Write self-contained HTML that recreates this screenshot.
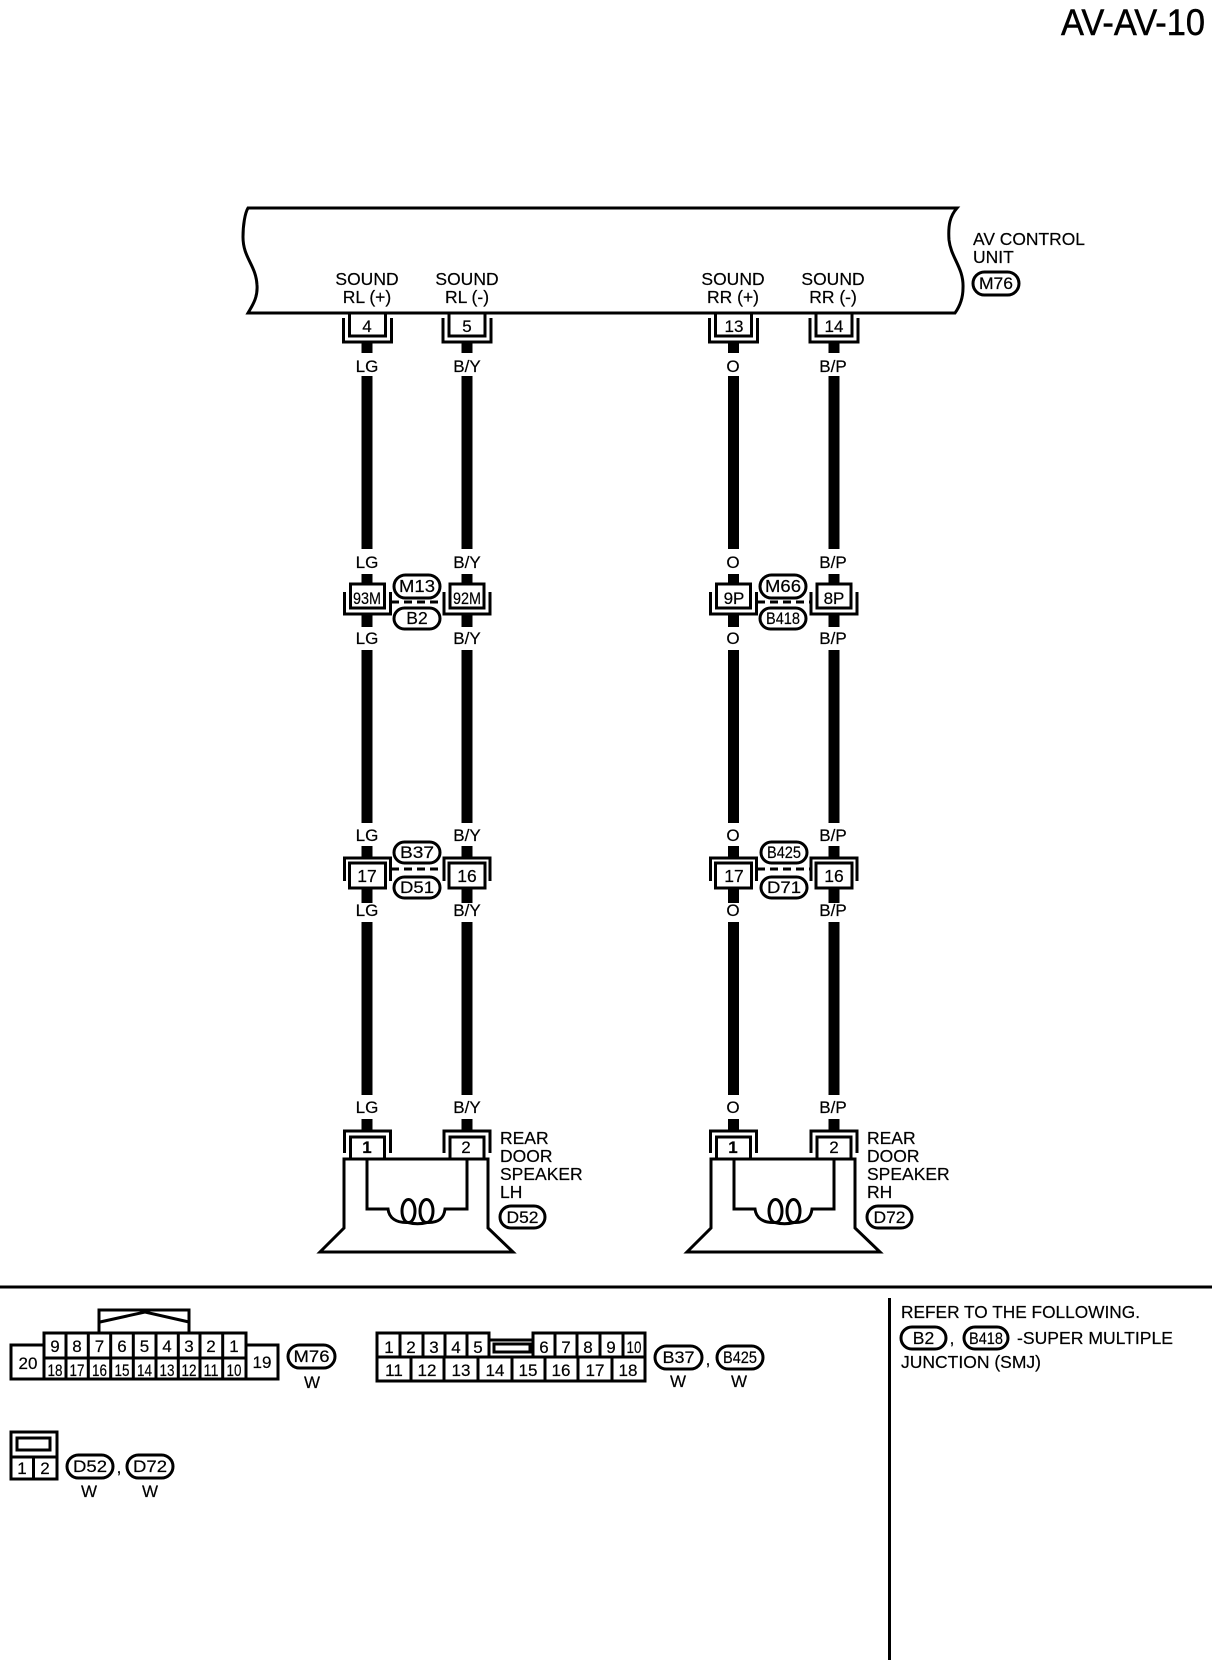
<!DOCTYPE html>
<html><head><meta charset="utf-8"><style>
html,body{margin:0;padding:0;background:#fff}
svg{display:block}
text{font-family:"Liberation Sans",sans-serif;fill:#000;stroke:#000;stroke-width:.2;font-size:17px;text-anchor:middle}
.s{font-size:17.500px}
.l{text-anchor:start;font-size:17.500px}
.o{fill:#fff;stroke:#000;stroke-width:3}
.n{fill:none;stroke:#000;stroke-width:3}
.b{fill:#fff;stroke:#000;stroke-width:3}
</style></head><body>
<svg width="1216" height="1660" viewBox="0 0 1216 1660" xmlns="http://www.w3.org/2000/svg">
<defs>
<g id="wire">
<rect x="-5.5" y="342" width="11" height="11"/><rect x="-5.5" y="376" width="11" height="173"/>
<rect x="-5.5" y="574" width="11" height="11"/><rect x="-5.5" y="614" width="11" height="13"/>
<rect x="-5.5" y="650" width="11" height="173"/><rect x="-5.5" y="846" width="11" height="13"/>
<rect x="-5.5" y="888" width="11" height="15"/><rect x="-5.5" y="922" width="11" height="173"/>
<rect x="-5.5" y="1119" width="11" height="13"/>
</g>
<g id="conn">
<rect class="b" x="-18" y="313" width="36" height="23"/>
<path class="n" d="M-24 318V342H24V318"/>
<rect class="b" x="-17" y="584" width="34" height="24"/>
<path class="n" d="M-23 592V614H23V592"/>
<rect class="b" x="-18" y="863" width="36" height="25"/>
<path class="n" d="M-23 881V858H23V881"/>
<rect class="b" x="-17" y="1137" width="34" height="22"/>
<path class="n" d="M-23 1153V1131H23V1153"/>
</g>
<g id="spk">
<path class="n" d="M344 1159H488V1228L513 1252H320L344 1228Z"/>
<path class="n" d="M367 1159V1209H388C389 1218 396 1223 408 1222.500M408 1222.500Q417.500 1225 427 1222.500M427 1222.500C439 1223 444 1218 445 1209H467V1159"/>
<ellipse class="n" cx="408.500" cy="1211" rx="6.500" ry="11.500"/>
<ellipse class="n" cx="426.500" cy="1211" rx="6.500" ry="11.500"/>
</g>
</defs>

<text x="1133" y="35" style="font-size:37px;stroke-width:.5" textLength="144" lengthAdjust="spacingAndGlyphs">AV-AV-10</text>

<path d="M248 208H957C950 216 948 225 949 240C951 258 964 268 963 288C963 298 960 306 955 313H248C252 306 258 298 257 285C256 265 243 258 243 237C243 225 245 213 248 208Z" fill="#fff" stroke="#000" stroke-width="3"/>

<text class="s" x="367" y="285">SOUND</text><text class="s" x="367" y="303">RL (+)</text>
<text class="s" x="467" y="285">SOUND</text><text class="s" x="467" y="303">RL (-)</text>
<text class="s" x="733" y="285">SOUND</text><text class="s" x="733" y="303">RR (+)</text>
<text class="s" x="833" y="285">SOUND</text><text class="s" x="833" y="303">RR (-)</text>

<text class="l" x="973" y="245" textLength="112" lengthAdjust="spacingAndGlyphs">AV CONTROL</text>
<text class="l" x="973" y="263">UNIT</text>
<rect class="o" x="973" y="272" width="46" height="23" rx="11.5"/><text x="996" y="289" textLength="34" lengthAdjust="spacingAndGlyphs">M76</text>

<use href="#wire" x="367"/><use href="#wire" x="467"/><use href="#wire" x="733.5"/><use href="#wire" x="834"/>
<use href="#conn" x="367.500"/><use href="#conn" x="467"/><use href="#conn" x="733.500"/><use href="#conn" x="834"/>

<!-- wire colours -->
<text x="367" y="372">LG</text><text x="467" y="372">B/Y</text><text x="733" y="372">O</text><text x="833" y="372">B/P</text>
<text x="367" y="568">LG</text><text x="467" y="568">B/Y</text><text x="733" y="568">O</text><text x="833" y="568">B/P</text>
<text x="367" y="644">LG</text><text x="467" y="644">B/Y</text><text x="733" y="644">O</text><text x="833" y="644">B/P</text>
<text x="367" y="841">LG</text><text x="467" y="841">B/Y</text><text x="733" y="841">O</text><text x="833" y="841">B/P</text>
<text x="367" y="916">LG</text><text x="467" y="916">B/Y</text><text x="733" y="916">O</text><text x="833" y="916">B/P</text>
<text x="367" y="1113">LG</text><text x="467" y="1113">B/Y</text><text x="733" y="1113">O</text><text x="833" y="1113">B/P</text>

<!-- pin numbers -->
<text x="367" y="332">4</text><text x="467" y="332">5</text><text x="734" y="332">13</text><text x="834" y="332">14</text>
<text x="367" y="604" textLength="28" lengthAdjust="spacingAndGlyphs">93M</text><text x="467" y="604" textLength="28" lengthAdjust="spacingAndGlyphs">92M</text>
<text x="734" y="604">9P</text><text x="834" y="604">8P</text>
<text class="s" x="367" y="882">17</text><text class="s" x="467" y="882">16</text><text class="s" x="734" y="882">17</text><text class="s" x="834" y="882">16</text>
<text x="367" y="1153" style="font-weight:bold">1</text><text x="466" y="1153">2</text><text x="733" y="1153" style="font-weight:bold">1</text><text x="834" y="1153">2</text>

<!-- joints -->
<path d="M391 602H444M757 602H810M391 869H444M757 869H810" fill="none" stroke="#000" stroke-width="3" stroke-dasharray="8 5"/>
<rect class="o" x="394" y="575" width="46" height="23" rx="11.5"/><text class="s" x="417" y="592" textLength="36" lengthAdjust="spacingAndGlyphs">M13</text>
<rect class="o" x="394" y="608" width="46" height="21" rx="10.5"/><text class="s" x="417" y="624">B2</text>
<rect class="o" x="760" y="575" width="46" height="23" rx="11.5"/><text class="s" x="783" y="592" textLength="36" lengthAdjust="spacingAndGlyphs">M66</text>
<rect class="o" x="760" y="608" width="46" height="21" rx="10.5"/><text x="783" y="624" textLength="34" lengthAdjust="spacingAndGlyphs">B418</text>
<rect class="o" x="394" y="842" width="46" height="21" rx="10.5"/><text x="417" y="858" textLength="34" lengthAdjust="spacingAndGlyphs">B37</text>
<rect class="o" x="394" y="877" width="46" height="21" rx="10.5"/><text x="417" y="893" textLength="34" lengthAdjust="spacingAndGlyphs">D51</text>
<rect class="o" x="761" y="842" width="46" height="21" rx="10.5"/><text x="784" y="858" textLength="34" lengthAdjust="spacingAndGlyphs">B425</text>
<rect class="o" x="761" y="877" width="46" height="21" rx="10.5"/><text x="784" y="893" textLength="34" lengthAdjust="spacingAndGlyphs">D71</text>

<!-- speakers -->
<use href="#spk"/><use href="#spk" x="367"/>
<text class="l" x="500" y="1144">REAR</text><text class="l" x="500" y="1162">DOOR</text><text class="l" x="500" y="1180">SPEAKER</text><text class="l" x="500" y="1198">LH</text>
<rect class="o" x="500" y="1206" width="45" height="22" rx="11"/><text x="522.500" y="1223" textLength="32" lengthAdjust="spacingAndGlyphs">D52</text>
<text class="l" x="867" y="1144">REAR</text><text class="l" x="867" y="1162">DOOR</text><text class="l" x="867" y="1180">SPEAKER</text><text class="l" x="867" y="1198">RH</text>
<rect class="o" x="867" y="1206" width="45" height="22" rx="11"/><text x="889.500" y="1223" textLength="32" lengthAdjust="spacingAndGlyphs">D72</text>

<!-- separators -->
<rect x="0" y="1285.500" width="1212" height="3"/>
<rect x="888" y="1298" width="3" height="362"/>

<!-- M76 connector -->
<path class="n" d="M99 1333V1310H189V1333M100 1322L145 1312L189 1322"/>
<path class="n" d="M44 1345H11V1379H278V1345H246V1333H44ZM44 1345V1379M246 1345V1379M44 1358H246M66 1333V1379M88.300 1333V1379M110.700 1333V1379M133.300 1333V1379M156 1333V1379M178.300 1333V1379M200 1333V1379M222.700 1333V1379"/>
<text x="55" y="1352">9</text><text x="77" y="1352">8</text><text x="99.500" y="1352">7</text><text x="122" y="1352">6</text><text x="144.500" y="1352">5</text><text x="167" y="1352">4</text><text x="189" y="1352">3</text><text x="211" y="1352">2</text><text x="234" y="1352">1</text>
<text x="55" y="1376" textLength="15" lengthAdjust="spacingAndGlyphs">18</text><text x="77" y="1376" textLength="15" lengthAdjust="spacingAndGlyphs">17</text><text x="99.500" y="1376" textLength="15" lengthAdjust="spacingAndGlyphs">16</text><text x="122" y="1376" textLength="15" lengthAdjust="spacingAndGlyphs">15</text><text x="144.500" y="1376" textLength="15" lengthAdjust="spacingAndGlyphs">14</text><text x="167" y="1376" textLength="15" lengthAdjust="spacingAndGlyphs">13</text><text x="189" y="1376" textLength="15" lengthAdjust="spacingAndGlyphs">12</text><text x="211" y="1376" textLength="15" lengthAdjust="spacingAndGlyphs">11</text><text x="234" y="1376" textLength="15" lengthAdjust="spacingAndGlyphs">10</text>
<text x="28" y="1369">20</text><text x="262" y="1368">19</text>
<rect class="o" x="288" y="1345" width="47" height="23" rx="11.500"/><text x="311.500" y="1362" textLength="36" lengthAdjust="spacingAndGlyphs">M76</text>
<text x="312" y="1388">W</text>

<!-- B37 connector -->
<path class="n" d="M377 1333H489V1340H533V1333H645V1381H377ZM377 1357H645M400 1333V1357M423 1333V1357M445 1333V1357M467 1333V1357M489 1333V1357M533 1333V1357M555 1333V1357M577 1333V1357M600 1333V1357M623 1333V1357M411 1357V1381M444 1357V1381M478 1357V1381M512 1357V1381M545 1357V1381M578 1357V1381M612 1357V1381"/>
<rect class="n" x="494" y="1344" width="36" height="8"/>
<text x="389" y="1353">1</text><text x="411" y="1353">2</text><text x="434" y="1353">3</text><text x="456" y="1353">4</text><text x="478" y="1353">5</text><text x="544" y="1353">6</text><text x="566" y="1353">7</text><text x="588" y="1353">8</text><text x="611" y="1353">9</text><text x="634" y="1353" textLength="15" lengthAdjust="spacingAndGlyphs">10</text>
<text x="394" y="1376">11</text><text x="427" y="1376">12</text><text x="461" y="1376">13</text><text x="495" y="1376">14</text><text x="528" y="1376">15</text><text x="561" y="1376">16</text><text x="595" y="1376">17</text><text x="628" y="1376">18</text>
<rect class="o" x="655" y="1346" width="47" height="23" rx="11.500"/><text x="678.500" y="1363" textLength="32" lengthAdjust="spacingAndGlyphs">B37</text>
<text x="708" y="1365">,</text>
<rect class="o" x="717" y="1346" width="46" height="23" rx="11.500"/><text x="740" y="1363" textLength="34" lengthAdjust="spacingAndGlyphs">B425</text>
<text x="678" y="1387">W</text><text x="739" y="1387">W</text>

<!-- D52 connector -->
<path class="n" d="M11 1432H57V1479H11ZM11 1457H57M33.500 1457V1479"/>
<rect class="n" x="17" y="1438" width="33" height="12"/>
<text x="22" y="1474">1</text><text x="45" y="1474">2</text>
<rect class="o" x="67" y="1455" width="46" height="23" rx="11.500"/><text x="90" y="1472" textLength="34" lengthAdjust="spacingAndGlyphs">D52</text>
<text x="119" y="1473">,</text>
<rect class="o" x="127" y="1455" width="46" height="23" rx="11.500"/><text x="150" y="1472" textLength="34" lengthAdjust="spacingAndGlyphs">D72</text>
<text x="89" y="1497">W</text><text x="150" y="1497">W</text>

<!-- note -->
<text class="l" x="901" y="1318" textLength="239" lengthAdjust="spacingAndGlyphs">REFER TO THE FOLLOWING.</text>
<rect class="o" x="901" y="1327" width="45" height="22" rx="11"/><text class="s" x="923.500" y="1344">B2</text>
<text x="952" y="1344">,</text>
<rect class="o" x="964" y="1327" width="44" height="22" rx="11"/><text x="986" y="1344" textLength="34" lengthAdjust="spacingAndGlyphs">B418</text>
<text class="l" x="1017" y="1344" textLength="156" lengthAdjust="spacingAndGlyphs">-SUPER MULTIPLE</text>
<text class="l" x="901" y="1368" textLength="140" lengthAdjust="spacingAndGlyphs">JUNCTION (SMJ)</text>
</svg>
</body></html>
